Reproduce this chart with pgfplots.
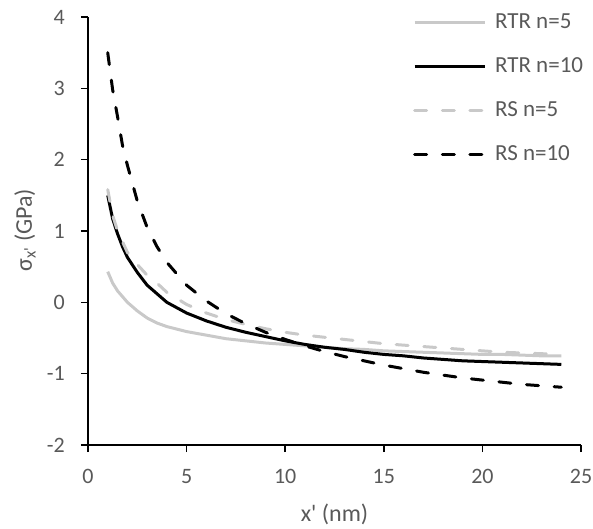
\documentclass[border=0pt]{standalone}
\usepackage{pgfplots}
\pgfplotsset{compat=1.18}
\usepackage{fontspec}
\setmainfont{Carlito}
\definecolor{txt}{HTML}{595959}
\definecolor{lgray}{HTML}{C9C9C9}
\begin{document}
\begin{tikzpicture}
\useasboundingbox (0,0) rectangle (593bp,529bp);
\begin{axis}[
  at={(88bp,84bp)}, anchor=south west,
  scale only axis, width=493bp, height=428bp,
  xmin=0, xmax=25, ymin=-2, ymax=4,
  xtick={0,5,10,15,20,25}, ytick={-2,-1,0,1,2,3,4},
  axis lines=left, axis line style={-, line width=1.5bp, black},
  tick align=outside, major tick length=7bp,
  tick style={line width=1.5bp, black},
  /pgf/number format/assume math mode=true,
  ticklabel style={font=\fontsize{22bp}{26bp}\selectfont, text=txt, inner sep=0pt},
  yticklabel style={anchor=east, xshift=-16bp},
  xticklabel style={anchor=base, yshift=-31bp},
  label style={font=\fontsize{24bp}{28bp}\selectfont, text=txt},
  xlabel={x\textquotesingle{} (nm)},
  ylabel={σ\textsubscript{x\textquotesingle} (GPa)},
  xlabel style={at={(axis description cs:0.5,0)}, anchor=center, yshift=-69bp},
  ylabel style={at={(axis description cs:-0.1278,0.502)}, anchor=center},
  clip=false,
  legend style={draw=none, fill=none, at={(0.659,1.04)}, anchor=north west,
    inner sep=0pt, row sep=0pt, column sep=9bp,
    nodes={inner sep=0pt, text height=28bp, text depth=16bp, anchor=west},
    font=\fontsize{23bp}{27bp}\selectfont, text=txt},
  legend cell align=left,
  legend image code/.code={\draw[#1] (0bp,0bp) -- (70bp,0bp);},
]
\addplot[lgray, line width=3bp] coordinates {
(1,0.43)(1.25,0.27)(1.5,0.16)(2,0.0)(2.5,-0.12)(3,-0.22)(3.5,-0.29)(4,-0.34)(5,-0.41)(6,-0.46)(7,-0.51)(8,-0.54)(9,-0.57)(10,-0.59)(11,-0.61)(12,-0.63)(13,-0.65)(14,-0.66)(15,-0.68)(16,-0.69)(17,-0.70)(18,-0.71)(19,-0.72)(20,-0.73)(21,-0.73)(22,-0.74)(23,-0.75)(24,-0.75)};
\addlegendentry{RTR n=5}
\addplot[black, line width=3bp] coordinates {
(1,1.5)(1.25,1.17)(1.5,0.96)(1.75,0.78)(2,0.63)(2.5,0.42)(3,0.24)(3.5,0.12)(4,0.0)(5,-0.15)(6,-0.26)(7,-0.35)(8,-0.42)(9,-0.48)(10,-0.54)(11,-0.59)(12,-0.63)(13,-0.66)(14,-0.70)(15,-0.73)(16,-0.75)(17,-0.78)(18,-0.80)(19,-0.82)(20,-0.83)(21,-0.84)(22,-0.85)(23,-0.86)(24,-0.87)};
\addlegendentry{RTR n=10}
\addplot[lgray, line width=3bp, line cap=round, dash pattern=on 12bp off 15.7bp] coordinates {
(1,1.58)(1.25,1.22)(1.5,1.0)(1.75,0.85)(2,0.70)(2.5,0.53)(3,0.38)(3.5,0.27)(4,0.14)(5,-0.03)(6,-0.15)(7,-0.24)(8,-0.31)(9,-0.37)(10,-0.42)(11,-0.46)(12,-0.49)(13,-0.52)(14,-0.55)(15,-0.58)(16,-0.60)(17,-0.62)(18,-0.64)(19,-0.66)(20,-0.68)(21,-0.70)(22,-0.71)(23,-0.72)(24,-0.73)};
\addlegendentry{RS n=5}
\addplot[black, line width=3bp, line cap=round, dash pattern=on 12bp off 15.7bp] coordinates {
(1,3.5)(1.25,2.98)(1.5,2.6)(1.75,2.2)(2,1.92)(2.5,1.42)(3,1.05)(3.5,0.78)(4,0.56)(5,0.24)(6,0.02)(7,-0.16)(8,-0.30)(9,-0.42)(10,-0.52)(11,-0.61)(12,-0.69)(13,-0.76)(14,-0.82)(15,-0.88)(16,-0.93)(17,-0.98)(18,-1.02)(19,-1.06)(20,-1.09)(21,-1.12)(22,-1.15)(23,-1.17)(24,-1.19)};
\addlegendentry{RS n=10}
\end{axis}
\end{tikzpicture}
\end{document}
